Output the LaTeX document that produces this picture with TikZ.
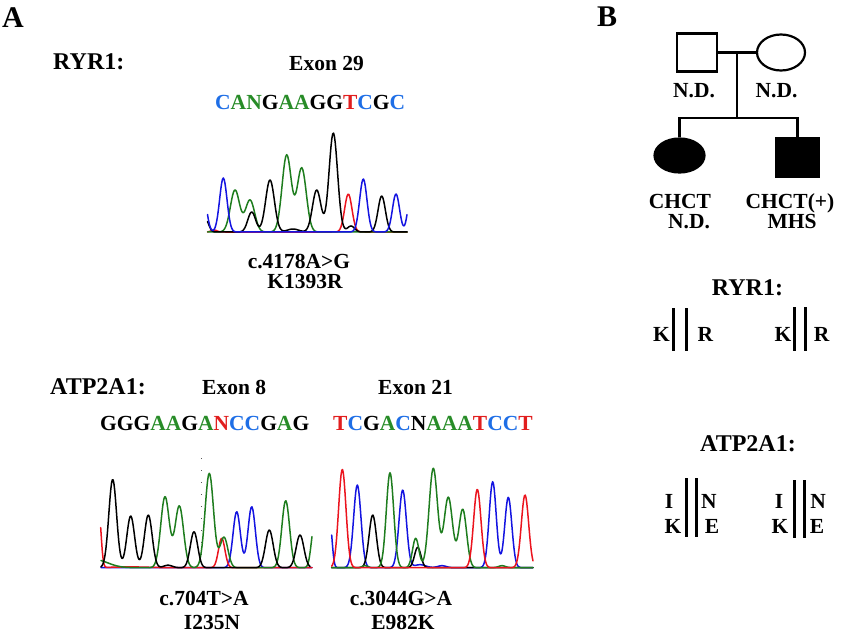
\documentclass[tikz,border=0pt]{standalone}
\usepackage{fontspec}
\setmainfont{Liberation Serif}
\usetikzlibrary{shapes.geometric}
\definecolor{sb}{RGB}{30,110,230}
\definecolor{sg}{RGB}{40,140,40}
\definecolor{sr}{RGB}{225,30,30}
\definecolor{tb}{RGB}{20,20,225}
\definecolor{tg}{RGB}{30,125,30}
\definecolor{tr}{RGB}{235,20,30}
% Gaussian peak: centre, height, width
\newcommand\gpk[3]{(#2)*exp(-min(((\x-(#1))/(#3))^2,15))}
\begin{document}
\begin{tikzpicture}[x=1pt,y=-1pt,
  lbl/.style={font=\fontsize{21.5}{24}\selectfont\bfseries, inner sep=0pt, anchor=base west},
  lblc/.style={font=\fontsize{21.5}{24}\selectfont\bfseries, inner sep=0pt, anchor=base},
  gene/.style={font=\fontsize{24}{28}\selectfont\bfseries, inner sep=0pt, anchor=base west},
  panel/.style={font=\fontsize{30}{34}\selectfont\bfseries, inner sep=0pt, anchor=base west},
  trace/.style={line width=1.5pt, line join=round, line cap=round},
  ped/.style={line width=2.2pt},
  bar/.style={line width=3pt}]
\useasboundingbox (0,0) rectangle (842,639);

% ---------- panel labels
\node[panel] (pA) at (2,28) {A};
\node[panel] (pB) at (597,27) {B};

% ---------- RYR1 block
\node[gene] (ryr) at (53,70) {RYR1:};
\node[lbl] (ex29) at (289,71) {Exon 29};
\node[lbl] (seq1) at (215,110) {\textcolor{sb}{C}\textcolor{sg}{AN}G\textcolor{sg}{AA}GG\textcolor{sr}{T}\textcolor{sb}{C}G\textcolor{sb}{C}};
\node[lblc] (mut1) at (299,268) {c.4178A>G};
\node[lblc] (aa1) at (305,288) {K1393R};

% chromatogram 1 (baseline 232)
\draw[trace,tr] plot[domain=207.5:407,samples=200] (\x,{232-\gpk{214}{2}{4}-\gpk{348.3}{38}{5.2}});
\draw[trace,tg] plot[domain=207.5:407,samples=200] (\x,{232-\gpk{235}{42}{6.5}-\gpk{250}{32}{6.5}-\gpk{286.7}{77}{6.5}-\gpk{301.7}{64}{6.5}});
\draw[trace,black] plot[domain=207.5:407,samples=240] (\x,{232-\gpk{206}{12}{4}-\gpk{251.7}{20}{5.5}-\gpk{270}{52}{6.2}-\gpk{293}{3}{8}-\gpk{316.7}{42}{6}-\gpk{333.3}{99}{6}-\gpk{351}{6}{5}-\gpk{381.7}{36}{5.2}});
\draw[trace,tb] plot[domain=207.5:407,samples=240] (\x,{232-\gpk{204}{32}{4.5}-\gpk{223.3}{54}{5.2}-\gpk{363.3}{53}{5.2}-\gpk{396}{38}{5}-\gpk{410}{30}{4}});

% ---------- ATP2A1 block
\node[gene] (atp) at (50,394) {ATP2A1:};
\node[lbl] (ex8) at (202,394) {Exon 8};
\node[lbl] (ex21) at (378,394) {Exon 21};
\node[lbl] (seq2) at (100,430) {GGG\textcolor{sg}{AA}G\textcolor{sg}{A}\textcolor{sr}{N}\textcolor{sb}{CC}G\textcolor{sg}{A}G};
\node[lbl] (seq3) at (333,430) {\textcolor{sr}{T}\textcolor{sb}{C}G\textcolor{sg}{A}\textcolor{sb}{C}N\textcolor{sg}{AAA}\textcolor{sr}{T}\textcolor{sb}{CC}\textcolor{sr}{T}};
\node[lblc] (mut2) at (204,605) {c.704T>A};
\node[lblc] (aa2) at (212,629) {I235N};
\node[lblc] (mut3) at (401,605) {c.3044G>A};
\node[lblc] (aa3) at (403,629) {E982K};

% chromatogram 2 (baseline 567.7)
\draw[line width=1pt, gray!70!black, dash pattern=on 1pt off 11pt] (201,458) -- (201,565);
\draw[trace,tb] plot[domain=101:312,samples=240] (\x,{567.7-\gpk{236.7}{56}{5.2}-\gpk{251.7}{61}{5.2}});
\draw[trace,tr] plot[domain=100.7:312,samples=260] (\x,{567.7-\gpk{99}{55}{3}-\gpk{130}{0.8}{25}-\gpk{221.7}{29.4}{4.6}});
\draw[trace,tg] plot[domain=101:312,samples=260] (\x,{567.7-\gpk{95}{8}{18}-\gpk{165}{71}{6}-\gpk{179.3}{61.7}{6}-\gpk{209.3}{94.4}{6}-\gpk{224}{30.4}{5.5}-\gpk{285.7}{67}{5.5}-\gpk{314}{40}{4}});
\draw[trace,black] plot[domain=101:310,samples=260] (\x,{567.7-\gpk{112.7}{88.4}{5.5}-\gpk{130.7}{51.7}{5.5}-\gpk{148.3}{52.7}{5.5}-\gpk{168}{2.5}{6}-\gpk{194}{36}{5.2}-\gpk{269.3}{37.7}{5.5}-\gpk{300}{32.7}{5.5}});

% chromatogram 3 (baseline 567.7)
\draw[trace,tb] plot[domain=331.7:533,samples=260] (\x,{567.7-\gpk{330}{45}{3}-\gpk{357.3}{82.7}{5.2}-\gpk{402.7}{77.7}{5.2}-\gpk{420}{3}{8}-\gpk{442}{2}{6}-\gpk{492.7}{86}{5}-\gpk{508.3}{70.4}{5}});
\draw[trace,black] plot[domain=331.7:533,samples=240] (\x,{567.7-\gpk{372.7}{52.7}{5.2}-\gpk{417.7}{20.4}{4.5}});
\draw[trace,tg] plot[domain=331.7:533,samples=260] (\x,{567.7-\gpk{365}{2}{4}-\gpk{390}{95}{5.2}-\gpk{415.7}{29.4}{4.5}-\gpk{433.3}{99.4}{6}-\gpk{448.3}{70.4}{6}-\gpk{462.7}{58.4}{5.5}-\gpk{502}{2}{5}});
\draw[trace,tr] plot[domain=331.7:533,samples=260] (\x,{567.7-\gpk{342.3}{98.4}{5.2}-\gpk{477.3}{78.4}{5.2}-\gpk{525}{72.7}{5.2}});

% ---------- pedigree
\node[draw, ped, minimum width=40pt, minimum height=38pt, inner sep=0pt] (fa) at (696.7,52.5) {};
\node[draw, ped, ellipse, minimum width=48pt, minimum height=36pt, inner sep=0pt] (mo) at (781,52.5) {};
\node[draw, ped, fill=black, ellipse, minimum width=50pt, minimum height=34pt, inner sep=0pt] (da) at (679.5,155.5) {};
\node[draw, ped, fill=black, minimum width=42pt, minimum height=38pt, inner sep=0pt] (so) at (797.5,157.5) {};
\coordinate (mar) at (736.7,52.5);
\coordinate (sib) at (736.7,118.3);
\draw[ped] (fa.east) -- (mo.west);
\draw[ped] (mar) -- (sib);
\draw[ped] (da.north) -- (da.north |- sib) -- (so.north |- sib) -- (so.north);
\node[lblc] (ndf) at (694,98) {N.D.};
\node[lblc] (ndm) at (776.5,98) {N.D.};
\node[lblc] (chd) at (680,208) {CHCT};
\node[lblc] (ndd) at (689,228) {N.D.};
\node[lblc] (chs) at (790,208) {CHCT(+)};
\node[lblc] (mhs) at (792,228) {MHS};

% ---------- haplotypes
\node[gene] (ryr2) at (711.7,295) {RYR1:};
\node[lblc] (k1) at (661.5,341.7) {K};
\node[lblc] (r1) at (705.5,341.7) {R};
\node[lblc] (k2) at (783,341.7) {K};
\node[lblc] (r2) at (821.5,341.7) {R};
\draw[bar] (673.3,308) -- (673.3,350.7);
\draw[bar] (686,308) -- (686,350.7);
\draw[bar] (794,307) -- (794,350.7);
\draw[bar] (805,307) -- (805,350.7);

\node[gene] (atp2) at (700,451.7) {ATP2A1:};
\node[lblc] (i1) at (669,508) {I};
\node[lblc] (kk1) at (673,533) {K};
\node[lblc] (n1) at (709,508) {N};
\node[lblc] (e1) at (712,533) {E};
\node[lblc] (i2) at (779,508) {I};
\node[lblc] (kk2) at (780,533) {K};
\node[lblc] (n2) at (818,508) {N};
\node[lblc] (e2) at (817,533) {E};
\draw[bar] (686,478.3) -- (686,536.7);
\draw[bar] (696.7,478.3) -- (696.7,536.7);
\draw[bar] (794,480) -- (794,538);
\draw[bar] (804,480) -- (804,538);
\end{tikzpicture}
\end{document}
